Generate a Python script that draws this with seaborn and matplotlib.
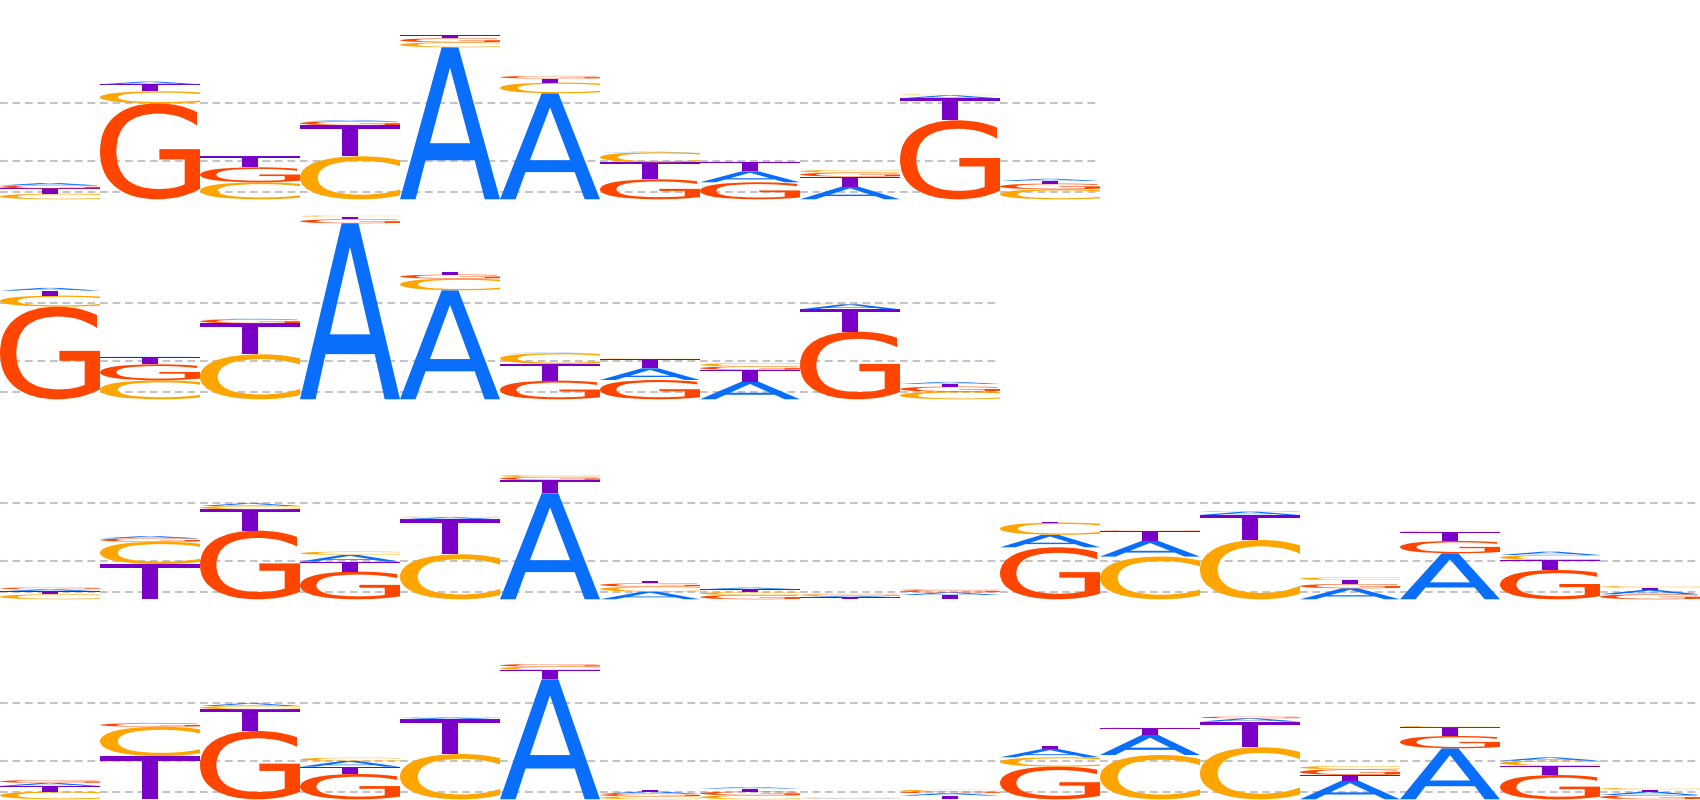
import numpy as np
import matplotlib
matplotlib.use("Agg")
import matplotlib.pyplot as plt
import seaborn as sns
from matplotlib.textpath import TextPath
from matplotlib.patches import PathPatch
from matplotlib.font_manager import FontProperties
from matplotlib.transforms import Affine2D

# ---- data: letter heights per position (information units, 100 = 1 bit) ----
letters = ["A", "C", "G", "T"]

row1_A = [2.5, 2.7, 0.3, 1.0, 152, 106, 0.5, 11, 12.7, 3.0, 2.2]
row1_C = [5.5, 12, 17, 43, 5.0, 10.7, 10, 0.5, 2.7, 0.8, 10]
row1_G = [3.0, 96, 15, 4.0, 4.0, 2.7, 20, 17, 4.0, 79, 5.7]
row1_T = [5.3, 7.0, 11, 31, 3.0, 4.0, 17, 9.3, 10, 22, 2.6]

row2_A = [2.7, 0.3, 0.5, 176, 109, 0.5, 11.7, 17.7, 5.0, 2.0]
row2_C = [11, 19, 45, 1.0, 11.7, 10.7, 0.5, 3.3, 1.0, 7.7]
row2_G = [92.7, 16, 4.0, 4.0, 4.0, 18.7, 19.3, 3.4, 67.7, 5.0]
row2_T = [5.0, 7.3, 31, 2.7, 2.7, 16.7, 9.3, 11.7, 22.3, 2.7]

row3_A = [2.0, 2.3, 2.7, 6.7, 2.0, 106, 7.7, 1.7, 1.5, 2.6, 12.5, 15.7, 3.3, 11, 46, 3.3, 4.3]
row3_C = [5.0, 22.3, 3.3, 3.3, 45, 2.0, 5.0, 3.0, 1.0, 1.0, 12.2, 42.7, 59.3, 2.7, 1.0, 5.0, 1.7]
row3_G = [1.8, 3.3, 68.7, 27.7, 0.5, 3.0, 3.3, 4.3, 1.2, 2.4, 52, 0.5, 0.5, 4.3, 12.3, 29.3, 5.0]
row3_T = [3.0, 35.3, 21.3, 10, 35, 13.3, 2.3, 2.7, 2.0, 4.3, 0.5, 10, 25, 4.0, 9.3, 10, 2.3]

row4_A = [3.0, 0.5, 2.7, 5.7, 1.7, 120, 2.3, 1.5, 0.4, 2.3, 8.3, 20, 3.3, 18.7, 51, 3.3, 3.3]
row4_C = [7.7, 29.3, 3.3, 3.3, 45.3, 3.3, 3.0, 4.0, 0.3, 1.5, 9.3, 44.3, 52, 3.3, 1.3, 5.0, 1.8]
row4_G = [2.8, 3.3, 68.3, 25.3, 0.5, 2.7, 2.5, 3.7, 0.3, 2.0, 32.7, 0.5, 1.7, 5.6, 12.3, 24.3, 4.3]
row4_T = [5.7, 43.3, 21.7, 7.3, 34.7, 9.3, 2.0, 3.0, 0.5, 3.7, 3.0, 6.7, 25.7, 5.7, 8.7, 9.3, 2.0]

grid_levels = [7.6, 38.6, 96.6]

rows = [
    [row1_A, row1_C, row1_G, row1_T],
    [row2_A, row2_C, row2_G, row2_T],
    [row3_A, row3_C, row3_G, row3_T],
    [row4_A, row4_C, row4_G, row4_T],
]

sns.set_theme(style="white")
plt.rcParams['font.family'] = ['DejaVu Sans']
palette = dict(zip(letters, ["#0A6EFC", "#FFA500", "#FF4500", "#7A00C8"]))

fp = FontProperties(family="DejaVu Sans")
glyphs = {}
for L in letters:
    p = TextPath((0, 0), L, size=1, prop=fp)
    glyphs[L] = (p, p.get_extents())


def draw_letter(ax, L, x, y, w, h):
    path, bb = glyphs[L]
    tr = (Affine2D().translate(-bb.x0, -bb.y0)
          .scale(w / bb.width, h / bb.height)
          .translate(x, y))
    patch = PathPatch(tr.transform_path(path), facecolor=palette[L],
                      edgecolor="none", lw=0, zorder=3)
    ax.add_patch(patch)


n_total = 17
fig = plt.figure(figsize=(17, 8), dpi=100)
for r, vals in enumerate(rows):
    ax = fig.add_axes([0, 1 - (r + 1) * 0.25, 1, 0.25])
    npos = len(vals[0])
    ax.set_xlim(0, n_total)
    ax.set_ylim(-0.7, 199.3)
    ax.axis("off")
    for g in grid_levels:
        ax.hlines(g, 0, npos, colors="#c4c4c4", linewidth=1.5,
                  linestyles=(0, (3.7, 2.3)), zorder=1)
    for i in range(npos):
        col = sorted([(vals[k][i], letters[k]) for k in range(4)],
                     key=lambda t: -t[0])
        y0 = 0.0
        for h, L in col:
            draw_letter(ax, L, i, y0, 1.0, h)
            y0 += h

fig.savefig("out.png", dpi=100)
